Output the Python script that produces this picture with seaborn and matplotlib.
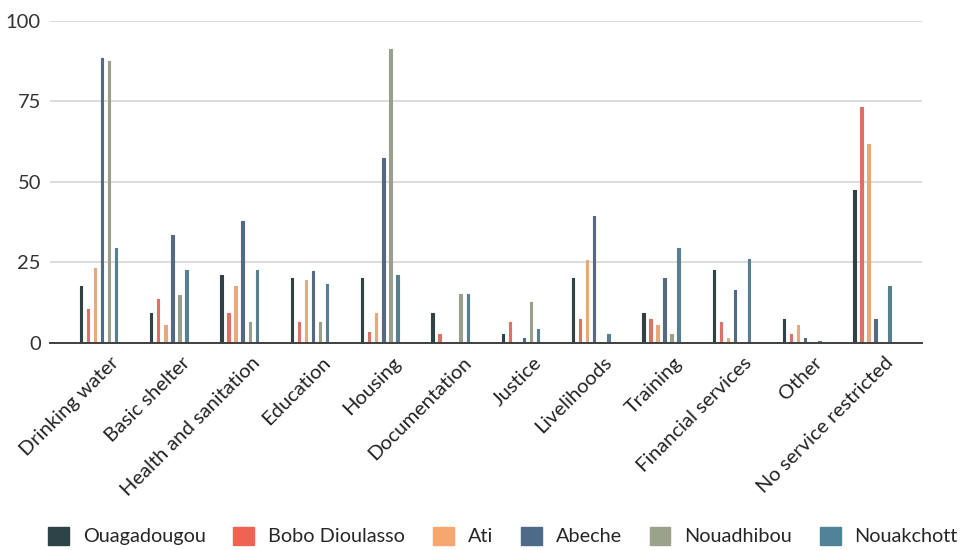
import numpy as np
import pandas as pd
import seaborn as sns
import matplotlib.pyplot as plt
import matplotlib.transforms as mtransforms
from matplotlib.patches import Patch

categories = ["Drinking water", "Basic shelter", "Health and sanitation", "Education",
              "Housing", "Documentation", "Justice", "Livelihoods", "Training",
              "Financial services", "Other", "No service restricted"]
cities = ["Ouagadougou", "Bobo Dioulasso", "Ati", "Abeche", "Nouadhibou", "Nouakchott"]

ouagadougou = [17.6, 9.3, 21.2, 20.3, 20.3, 9.3, 2.8, 20.3, 9.3, 22.5, 7.6, 47.4]
bobo_dioulasso = [10.4, 13.6, 9.3, 6.5, 3.3, 2.9, 6.5, 7.6, 7.6, 6.5, 2.8, 73.1]
ati = [23.4, 5.5, 17.6, 19.7, 9.3, 0, 0, 25.7, 5.5, 1.6, 5.5, 61.7]
abeche = [88.4, 33.4, 37.7, 22.4, 57.4, 0, 1.6, 39.3, 20.3, 16.4, 1.6, 7.6]
nouadhibou = [87.4, 14.8, 6.6, 6.5, 91.2, 15.3, 12.6, 0, 2.8, 0, 0, 0]
nouakchott = [29.4, 22.5, 22.5, 18.4, 21.2, 15.3, 4.3, 2.8, 29.4, 26.2, 0.6, 17.6]

colors = ["#2E4347", "#EF6351", "#F6A66F", "#4D6A89", "#9AA28A", "#4F8399"]
yticks = [0, 25, 50, 75, 100]

series = [ouagadougou, bobo_dioulasso, ati, abeche, nouadhibou, nouakchott]
df = pd.DataFrame({
    "category": np.tile(categories, len(cities)),
    "city": np.repeat(cities, len(categories)),
    "value": np.concatenate(series),
})

sns.set_theme(style="white")
plt.rcParams["font.family"] = ["Lato", "DejaVu Sans"]

fig = plt.figure(figsize=(9.6, 5.5), dpi=100)
ax = fig.add_axes([50 / 960, 1 - 343 / 550, 872 / 960, (343 - 20.7) / 550])

sns.barplot(data=df, x="category", y="value", hue="city", order=categories,
            hue_order=cities, palette=dict(zip(cities, colors)), width=0.6,
            dodge=True, legend=False, ax=ax, errorbar=None)

# thin, slightly rounded bars
bar_w = 0.034
for p in ax.patches:
    cx = p.get_x() + p.get_width() / 2
    p.set_x(cx - bar_w / 2)
    p.set_width(bar_w)
    p.set_edgecolor(p.get_facecolor())
    p.set_linewidth(0.8)
    p.set_joinstyle("round")

ax.set_xlim(-0.69, 11.71)
ax.set_ylim(0, 100)
ax.set_yticks(yticks)
ax.set_yticklabels([str(v) for v in yticks], fontsize=14.5, color="#333333")
ax.yaxis.grid(True, color="#d9d9d9", linewidth=1.3)
ax.set_axisbelow(True)
for s in ["left", "right", "top"]:
    ax.spines[s].set_visible(False)
ax.spines["bottom"].set_color("#404040")
ax.spines["bottom"].set_linewidth(1.4)
ax.spines["bottom"].set_zorder(5)
ax.tick_params(axis="both", length=0)
ax.tick_params(axis="y", pad=6.5)
ax.set_xlabel("")
ax.set_ylabel("")

offset = mtransforms.ScaledTranslation(12 / 100, -6 / 100, fig.dpi_scale_trans)
ax.set_xticks(range(len(categories)))
ax.set_xticklabels(categories, rotation=45, ha="right", va="top",
                   rotation_mode="anchor", fontsize=14.5, color="#222222")
for lbl in ax.get_xticklabels():
    lbl.set_transform(lbl.get_transform() + offset)

handles = [Patch(facecolor=c, edgecolor=c, label=n) for c, n in zip(colors, cities)]
fig.legend(handles=handles, loc="center left", bbox_to_anchor=(48 / 960, 1 - 536 / 550),
           ncol=6, frameon=False, fontsize=14.3, handlelength=1.05,
           handleheight=1.05, handletextpad=0.7, columnspacing=1.4,
           borderpad=0, borderaxespad=0)

fig.savefig("out.png", dpi=100)
